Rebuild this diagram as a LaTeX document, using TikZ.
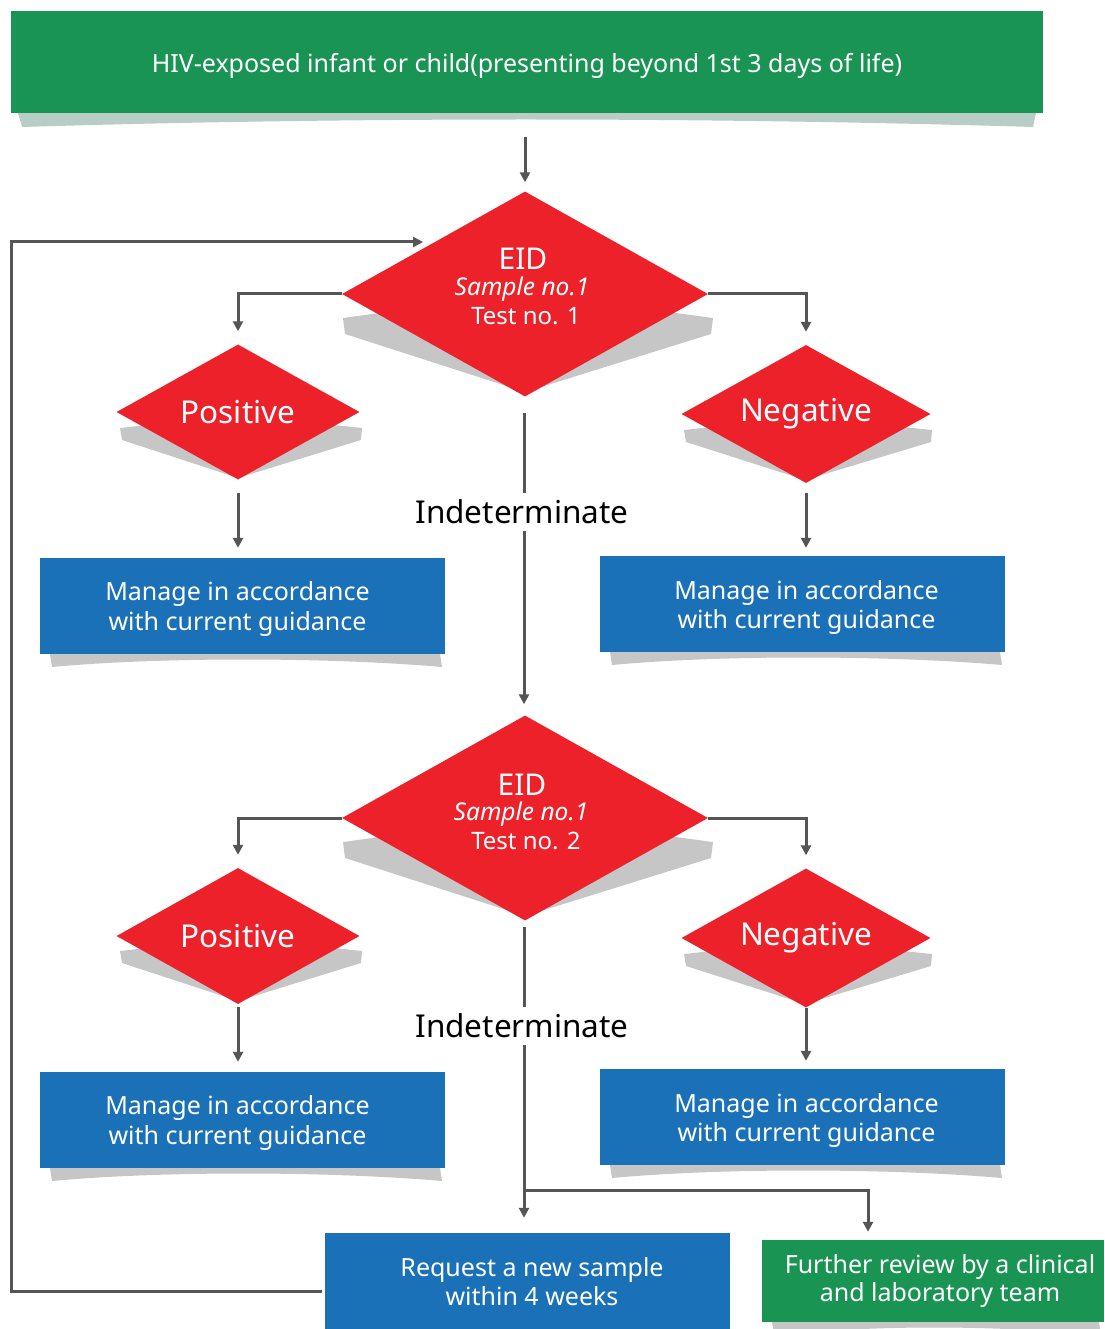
\documentclass[tikz,border=0pt]{standalone}
\usepackage{fontspec}
\setmainfont{Noto Sans}
\usetikzlibrary{shapes.geometric,arrows.meta}

\definecolor{bannergreen}{HTML}{1A9454}
\definecolor{reviewgreen}{HTML}{1A9452}
\definecolor{alertred}{HTML}{EC2129}
\definecolor{boxblue}{HTML}{1A71B8}
\definecolor{linegrey}{HTML}{555555}
\definecolor{shadowgrey}{HTML}{C6C6C6}
\definecolor{bannershadow}{HTML}{B9CDC7}

\tikzset{
  flow/.style={draw=linegrey, line width=3pt, -{Triangle[length=10pt,width=10pt]}},
  plainline/.style={draw=linegrey, line width=3pt},
  bluebox/.style={rectangle, fill=boxblue, minimum width=405pt,
    minimum height=96pt, inner sep=0pt},
  boxtext/.style={text=white, inner sep=0pt, align=center,
    font=\fontsize{25}{29.5}\selectfont},
  greenbox/.style={rectangle, fill=reviewgreen, inner sep=0pt},
  bigdiamond/.style={diamond, fill=alertred, minimum width=366pt,
    minimum height=205pt, inner sep=0pt, shape aspect=1.8},
  smalldiamond/.style={diamond, fill=alertred, text=white, inner sep=0pt,
    shape aspect=1.8, font=\fontsize{31.5}{34}\selectfont},
  dtext/.style={text=white, inner sep=0pt, anchor=base},
  outcome/.style={text=black, inner sep=7pt, font=\fontsize{31.5}{34}\selectfont},
}

% soft curled shadow under a rectangular box
\newcommand\boxshadow[4]{% x-left, x-right, y-bottom, colour
  \fill[#4] (#1+10,#3) -- (#2-5,#3) -- (#2-3,#3+13)
    .. controls (#2-120,#3+3) and (#1+120,#3+3) .. (#1+12,#3+13) -- cycle;}
% shadow band under a diamond
\newcommand\diamondshadow[6]{% cx, xl, xr, ymid, drop, ybottom
  \fill[shadowgrey] (#2+1,#4) -- (#1,#4-25) -- (#3+3,#4) -- (#3+1,#4+#5)
    -- (#1,#6) -- (#2+3,#4+#5) -- cycle;}

\begin{document}
\begin{tikzpicture}[x=1pt,y=-1pt]
\useasboundingbox (0,0) rectangle (1104,1329);

% ---------- shadows ----------
\fill[bannershadow] (18,113) -- (1036,113) -- (1033,127)
  .. controls (700,117) and (350,117) .. (22,127) -- cycle;
\diamondshadow{525}{342}{710}{318}{16}{392}
\diamondshadow{525}{342}{710}{842}{16}{916}
\fill[shadowgrey] (120,428) -- (238,415) -- (362,428) -- (361,440)
  -- (238,478) -- (122,440) -- cycle;
\fill[shadowgrey] (684,430) -- (805,417) -- (932,430) -- (931,442)
  -- (805,480) -- (686,442) -- cycle;
\fill[shadowgrey] (120,951) -- (238,938) -- (362,951) -- (361,963)
  -- (238,1001) -- (122,963) -- cycle;
\fill[shadowgrey] (684,954) -- (805,941) -- (932,954) -- (931,966)
  -- (805,1004) -- (686,966) -- cycle;
\boxshadow{40}{445}{654}{shadowgrey}
\boxshadow{600}{1005}{652}{shadowgrey}
\boxshadow{40}{445}{1168}{shadowgrey}
\boxshadow{600}{1005}{1165}{shadowgrey}
\boxshadow{762}{1104}{1322}{shadowgrey}

% ---------- nodes ----------
\node[rectangle, fill=bannergreen, minimum width=1032pt,
  minimum height=102pt, inner sep=0pt] (start) at (527,62) {};
\node[text=white, inner sep=0pt, font=\fontsize{25}{28}\selectfont] (startt) at (527,66)
  {HIV-exposed infant or child(presenting beyond 1st 3 days of life)};

\node[bigdiamond] (eid1) at (525,294) {};
\node[dtext, font=\fontsize{30}{30}\selectfont] (eid1a) at (523,270) {EID};
\node[dtext, font=\itshape\fontsize{24.5}{28}\selectfont] (eid1b) at (522,295) {Sample no.1};
\node[dtext, font=\fontsize{24}{28}\selectfont] (eid1c) at (526,324) {Test no. 1};

\node[smalldiamond, minimum width=243pt, minimum height=135pt] (pos1) at (238,412) {Positive};
\node[smalldiamond, minimum width=249pt, minimum height=138pt] (neg1) at (806,414) {Negative};

\node[bluebox] (man1) at (242.5,606) {};
\node[boxtext] (man1t) at (237.5,609) {Manage in accordance\\with current guidance};
\node[bluebox] (man2) at (802.5,604) {};
\node[boxtext] (man2t) at (806.5,607.5) {Manage in accordance\\with current guidance};

\node[outcome] (ind1) at (522,512) {Indeterminate};

\node[bigdiamond] (eid2) at (525,818) {};
\node[dtext, font=\fontsize{30}{30}\selectfont] (eid2a) at (522,795) {EID};
\node[dtext, font=\itshape\fontsize{24.5}{28}\selectfont] (eid2b) at (521,820) {Sample no.1};
\node[dtext, font=\fontsize{24}{28}\selectfont] (eid2c) at (526,849) {Test no. 2};

\node[smalldiamond, minimum width=243pt, minimum height=136pt] (pos2) at (238,936) {Positive};
\node[smalldiamond, minimum width=249pt, minimum height=139pt] (neg2) at (806,938) {Negative};

\node[bluebox] (man3) at (242.5,1120) {};
\node[boxtext] (man3t) at (237.5,1123) {Manage in accordance\\with current guidance};
\node[bluebox] (man4) at (802.5,1117) {};
\node[boxtext] (man4t) at (806.5,1120.5) {Manage in accordance\\with current guidance};

\node[outcome] (ind2) at (522,1026) {Indeterminate};

\node[bluebox] (resample) at (527.5,1281) {};
\node[boxtext] (resamplet) at (532,1281.5) {Request a new sample\\within 4 weeks};
\node[greenbox, minimum width=342pt, minimum height=82pt] (review) at (933,1281) {};
\node[boxtext, font=\fontsize{25}{27.5}\selectfont] (reviewt) at (940,1281)
  {Further review by a clinical\\and laboratory team};

% ---------- connectors ----------
\draw[flow, shorten <=24pt, shorten >=9pt] (start.south -| eid1.north) -- (eid1.north);

\draw[flow, shorten >=13pt] (eid1.west) -| (pos1.north);
\draw[flow, shorten >=13pt] (eid1.east) -| (neg1.north);
\draw[flow, shorten <=13pt, shorten >=10pt] (pos1.south) -- (pos1.south |- man1.north);
\draw[flow, shorten <=10pt, shorten >=8pt] (neg1.south) -- (neg1.south |- man2.north);

\coordinate (mid1) at (524,396);
\draw[plainline, shorten <=17pt] (mid1) -- (mid1 |- ind1.north);
\draw[flow, shorten >=11pt] (mid1 |- ind1.south) -- (mid1 |- eid2.north);

\draw[flow, shorten >=13pt] (eid2.west) -| (pos2.north);
\draw[flow, shorten >=13pt] (eid2.east) -| (neg2.north);
\draw[flow, shorten <=3pt, shorten >=10pt] (pos2.south) -- (pos2.south |- man3.north);
\draw[flow, shorten >=8pt] (neg2.south) -- (neg2.south |- man4.north);

\coordinate (mid2) at (524,921);
\draw[plainline, shorten <=6pt] (mid2) -- (mid2 |- ind2.north);
\coordinate (split) at (524,1190);
\draw[flow, shorten >=15pt] (split |- ind2.south) -- (split) -- (split |- resample.north);
\draw[flow, shorten >=8pt] (split) -| ([xshift=-65pt]review.north);

\coordinate (loopin) at (423,242);
\draw[flow] ([xshift=-3pt,yshift=-10pt]resample.west) -| (11,242) -- (loopin);

\end{tikzpicture}
\end{document}
